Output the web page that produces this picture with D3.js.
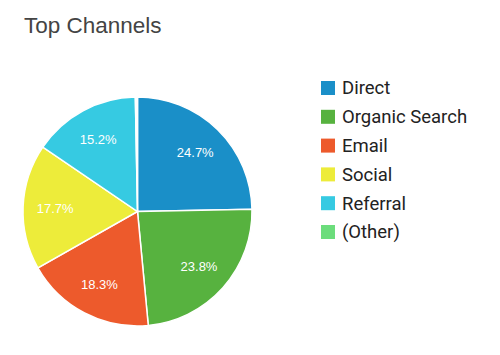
<!DOCTYPE html>
<html>
<head>
<meta charset="utf-8">
<script src="https://cdn.jsdelivr.net/npm/d3@7"></script>
<style>
  body { margin: 0; background: #fff; }
  svg { display: block; }
</style>
</head>
<body>
<svg id="chart" width="500" height="355"></svg>
<script>
// Chart data
const channels = ["Direct", "Organic Search", "Email", "Social", "Referral", "(Other)"];
const shares = [24.7, 23.8, 18.3, 17.7, 15.2, 0.3];
const colors = ["#1a8fc8", "#57b23f", "#ed5a2c", "#edec3a", "#36cae2", "#6cdd7c"];

const svg = d3.select("#chart");

// Title
svg.append("text")
    .attr("x", 24)
    .attr("y", 32.5)
    .attr("font-family", "Liberation Sans, Arial, sans-serif")
    .attr("font-size", 22.5)
    .attr("fill", "#444")
    .text("Top Channels");

// Pie
const cx = 137.5, cy = 211.5, radius = 114.5;
const g = svg.append("g").attr("transform", `translate(${cx}, ${cy})`);

const data = channels.map((c, i) => ({ name: c, value: shares[i], color: colors[i] }));

const pie = d3.pie().value(d => d.value).sort(null);
const arc = d3.arc().innerRadius(0).outerRadius(radius);
const labelArc = d3.arc().innerRadius(radius * 0.72).outerRadius(radius * 0.72);

const arcs = pie(data);

// tiny slices end up hidden behind the white separators
g.selectAll(".slice")
    .data(arcs)
    .enter()
    .append("path")
    .attr("class", "slice")
    .attr("d", arc)
    .attr("fill", d => d.data.value < 1 ? "#fff" : d.data.color)
    .attr("stroke", "#fff")
    .attr("stroke-width", 1.5);

g.selectAll(".label")
    .data(arcs.filter(d => d.data.value > 5))
    .enter()
    .append("text")
    .attr("class", "label")
    .attr("transform", d => `translate(${labelArc.centroid(d)})`)
    .attr("text-anchor", "middle")
    .attr("dy", "0.35em")
    .attr("font-family", "Liberation Sans, Arial, sans-serif")
    .attr("font-size", 13)
    .attr("fill", "#fff")
    .text(d => d.data.value.toFixed(1) + "%");

// Legend
const legend = svg.append("g").attr("transform", "translate(321, 88)");
const rowH = 28.8;

const rows = legend.selectAll(".legend-row")
    .data(data)
    .enter()
    .append("g")
    .attr("class", "legend-row")
    .attr("transform", (d, i) => `translate(0, ${i * rowH})`);

rows.append("rect")
    .attr("x", 0)
    .attr("y", -7)
    .attr("width", 14)
    .attr("height", 14)
    .attr("fill", d => d.color);

rows.append("text")
    .attr("x", 21)
    .attr("y", 0)
    .attr("dy", "0.35em")
    .attr("font-family", "Roboto, sans-serif")
    .attr("font-size", 18.5)
    .attr("fill", "#222")
    .text(d => d.name);
</script>
</body>
</html>
